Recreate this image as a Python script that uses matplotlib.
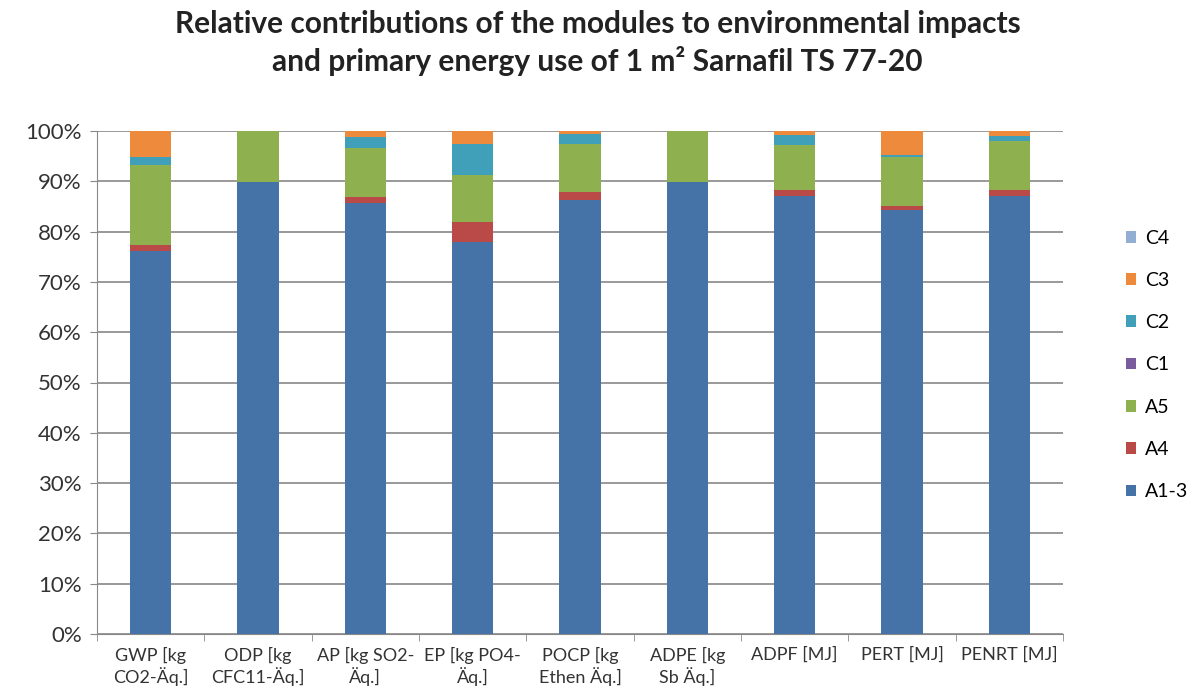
import numpy as np
import matplotlib.pyplot as plt

plt.rcParams['font.family'] = ['Lato', 'DejaVu Sans']

categories = ['GWP [kg\nCO2-Äq.]', 'ODP [kg\nCFC11-Äq.]', 'AP [kg SO2-\nÄq.]',
              'EP [kg PO4-\nÄq.]', 'POCP [kg\nEthen Äq.]', 'ADPE [kg\nSb Äq.]',
              'ADPF [MJ]', 'PERT [MJ]', 'PENRT [MJ]']

# shares in percent
a13 = [76.1, 89.9, 85.7, 77.9, 86.3, 89.9, 87.1, 84.2, 87.1]
a4  = [1.3, 0.0, 1.2, 4.0, 1.6, 0.0, 1.2, 0.8, 1.1]
a5  = [15.8, 10.1, 9.7, 9.3, 9.5, 10.1, 8.9, 9.9, 9.9]
c1  = [0.0, 0.0, 0.0, 0.0, 0.0, 0.0, 0.0, 0.0, 0.0]
c2  = [1.7, 0.0, 2.3, 6.3, 2.1, 0.0, 2.0, 0.3, 0.9]
c3  = [5.1, 0.0, 1.1, 2.5, 0.5, 0.0, 0.8, 4.8, 1.0]
c4  = [0.0, 0.0, 0.0, 0.0, 0.0, 0.0, 0.0, 0.0, 0.0]

series = [('A1-3', a13, '#4572A7'), ('A4', a4, '#B94A48'), ('A5', a5, '#8FB04E'),
          ('C1', c1, '#7A5C9E'), ('C2', c2, '#40A0BA'), ('C3', c3, '#EE8A3C'),
          ('C4', c4, '#93AED3')]

fig = plt.figure(figsize=(11.95, 7), dpi=100)
ax = fig.add_axes([97/1195, 1 - 634/700, 966/1195, 503/700])

x = np.arange(len(categories))
tot = np.array(a13) + a4 + np.array(a5) + c1 + np.array(c2) + c3 + c4
bottom = np.zeros(len(categories))
for name, vals, col in series:
    share = np.array(vals) / tot
    ax.bar(x, share, 0.385, bottom=bottom, color=col, label=name, zorder=3)
    bottom += share

ax.set_xlim(-0.5, len(categories) - 0.5)
ax.set_ylim(0, 1)
ax.set_yticks(np.arange(0, 1.01, 0.1))
ax.set_yticklabels(['%d%%' % v for v in range(0, 101, 10)], fontsize=16, color='#333333')
ax.set_xticks(x)
ax.set_xticklabels(categories, fontsize=13, color='#333333', linespacing=1.2)
ax.set_xticks(np.arange(-0.5, len(categories)), minor=True)
ax.tick_params(axis='x', which='major', length=0, pad=9)
ax.tick_params(axis='x', which='minor', length=5, color='#888888')
ax.tick_params(axis='y', length=5, color='#888888', pad=6)
ax.grid(axis='y', color='#888888', linewidth=1.2, zorder=0)
for s in ['top', 'right']:
    ax.spines[s].set_visible(False)
for s in ['left', 'bottom']:
    ax.spines[s].set_color('#888888')

h, l = ax.get_legend_handles_labels()
fig.legend(h[::-1], l[::-1], loc='center left', bbox_to_anchor=(1108/1195, 1 - 365/700),
           frameon=False, fontsize=14, handlelength=0.55, handleheight=0.55,
           labelspacing=1.3, handletextpad=0.45)

fig.suptitle('Relative contributions of the modules to environmental impacts\n'
             'and primary energy use of 1 m² Sarnafil TS 77-20',
             y=0.985, fontsize=21.5, fontweight='bold', color='#222222', linespacing=1.3)

plt.savefig('out.png')
